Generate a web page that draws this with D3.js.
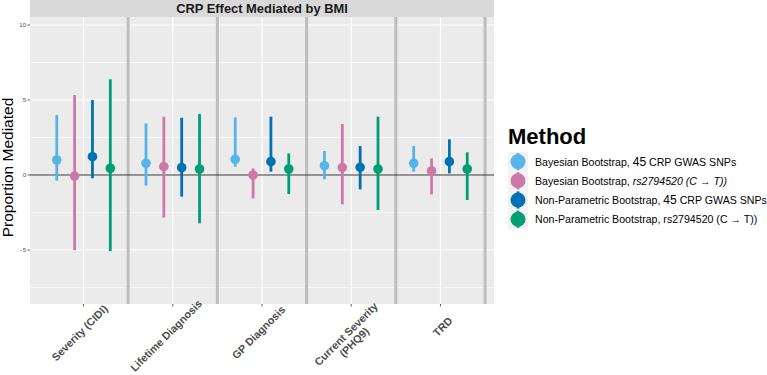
<!DOCTYPE html>
<html>
<head>
<meta charset="utf-8">
<script src="https://cdn.jsdelivr.net/npm/d3@7"></script>
<style>
  body { margin: 0; background: #fff; }
  svg { display: block; font-family: "Liberation Sans", Arial, Helvetica, sans-serif; }
</style>
</head>
<body>
<div id="chart"></div>
<script>
(function () {

  const CATEGORIES = ["Severity (CIDI)", "Lifetime Diagnosis", "GP Diagnosis", "Current Severity\n(PHQ9)", "TRD"];
  const METHODS = ["bayes45", "bayesRs", "np45", "npRs"];
  const COLORS = ["#56B4E9", "#CC79A7", "#0072B2", "#009E73"];

  // estimate / lower / upper per category, one array per method
  const BAYES45_EST = [1.0, 0.78, 1.04, 0.62, 0.78];
  const BAYES45_LO  = [-0.38, -0.71, 0.55, -0.29, 0.22];
  const BAYES45_HI  = [4.0, 3.44, 3.84, 1.6, 1.93];

  const BAYESRS_EST = [-0.07, 0.56, 0.0, 0.49, 0.27];
  const BAYESRS_LO  = [-5.02, -2.84, -1.56, -1.96, -1.29];
  const BAYESRS_HI  = [5.33, 3.89, 0.44, 3.4, 1.11];

  const NP45_EST = [1.22, 0.49, 0.89, 0.51, 0.89];
  const NP45_LO  = [-0.22, -1.44, 0.22, -0.96, 0.11];
  const NP45_HI  = [5.0, 3.82, 3.89, 1.93, 2.38];

  const NPRS_EST = [0.45, 0.4, 0.4, 0.4, 0.4];
  const NPRS_LO  = [-5.07, -3.22, -1.27, -2.33, -1.67];
  const NPRS_HI  = [6.38, 4.07, 1.44, 3.89, 1.51];

  const Y_TICKS = [-5, 0, 5, 10];
  const Y_MINOR = [-7.5, -2.5, 2.5, 7.5];

  const SERIES = [
    { est: BAYES45_EST, lo: BAYES45_LO, hi: BAYES45_HI },
    { est: BAYESRS_EST, lo: BAYESRS_LO, hi: BAYESRS_HI },
    { est: NP45_EST, lo: NP45_LO, hi: NP45_HI },
    { est: NPRS_EST, lo: NPRS_LO, hi: NPRS_HI }
  ];

  const data = [];
  SERIES.forEach((s, m) => {
    CATEGORIES.forEach((c, i) => {
      data.push({ cat: c, method: METHODS[m], est: s.est[i], lo: s.lo[i], hi: s.hi[i] });
    });
  });

  const W = 767, H = 375;
  const P = { left: 30, right: 494, top: 17, bottom: 304 };

  const svg = d3.select("#chart").append("svg")
    .attr("width", W)
    .attr("height", H);

  const x = d3.scalePoint()
    .domain(CATEGORIES)
    .range([P.left, P.right])
    .padding(0.6);
  const step = x.step();

  const dodge = d3.scalePoint()
    .domain(METHODS)
    .range([-step * 0.3, step * 0.3]);

  const y = d3.scaleLinear()
    .domain([-8.6, 10.533])
    .range([P.bottom, P.top]);

  const color = d3.scaleOrdinal().domain(METHODS).range(COLORS);

  // strip ---------------------------------------------------------
  svg.append("rect")
    .attr("x", P.left).attr("y", 0)
    .attr("width", P.right - P.left).attr("height", P.top)
    .attr("fill", "#D9D9D9");
  svg.append("text")
    .attr("x", (P.left + P.right) / 2)
    .attr("y", 12.7)
    .attr("text-anchor", "middle")
    .style("font-weight", 700)
    .style("font-size", "12.9px")
    .style("fill", "#1A1A1A")
    .text("CRP Effect Mediated by BMI");

  // panel ---------------------------------------------------------
  svg.append("rect")
    .attr("x", P.left).attr("y", P.top)
    .attr("width", P.right - P.left).attr("height", P.bottom - P.top)
    .attr("fill", "#EBEBEB");

  svg.append("g").selectAll("line")
    .data(Y_MINOR).enter().append("line")
    .attr("x1", P.left).attr("x2", P.right)
    .attr("y1", d => y(d)).attr("y2", d => y(d))
    .style("stroke", "#fff").style("stroke-width", 0.6);

  svg.append("g").selectAll("line")
    .data(Y_TICKS).enter().append("line")
    .attr("x1", P.left).attr("x2", P.right)
    .attr("y1", d => y(d)).attr("y2", d => y(d))
    .style("stroke", "#fff").style("stroke-width", 1.2);

  svg.append("g").selectAll("line")
    .data(CATEGORIES).enter().append("line")
    .attr("x1", d => x(d)).attr("x2", d => x(d))
    .attr("y1", P.top).attr("y2", P.bottom)
    .style("stroke", "#fff").style("stroke-width", 1.2);

  // separators between categories
  svg.append("g").selectAll("line")
    .data(CATEGORIES).enter().append("line")
    .attr("x1", d => x(d) + step / 2).attr("x2", d => x(d) + step / 2)
    .attr("y1", P.top).attr("y2", P.bottom)
    .style("stroke", "#BEBEBE").style("stroke-width", 3);

  // zero line
  svg.append("line")
    .attr("x1", P.left).attr("x2", P.right)
    .attr("y1", y(0)).attr("y2", y(0))
    .style("stroke", "#333").style("stroke-width", 1);

  // pointranges
  const g = svg.append("g");
  g.selectAll("line.range")
    .data(data).enter().append("line")
    .attr("class", "range")
    .attr("x1", d => x(d.cat) + dodge(d.method))
    .attr("x2", d => x(d.cat) + dodge(d.method))
    .attr("y1", d => y(d.lo)).attr("y2", d => y(d.hi))
    .style("stroke", d => color(d.method))
    .style("stroke-width", 2.8);
  g.selectAll("circle")
    .data(data).enter().append("circle")
    .attr("cx", d => x(d.cat) + dodge(d.method))
    .attr("cy", d => y(d.est))
    .attr("r", 4.8)
    .attr("fill", d => color(d.method));

  // y axis --------------------------------------------------------
  const yAxis = svg.append("g");
  yAxis.selectAll("line")
    .data(Y_TICKS).enter().append("line")
    .attr("x1", P.left - 2.5).attr("x2", P.left)
    .attr("y1", d => y(d)).attr("y2", d => y(d))
    .style("stroke", "#333").style("stroke-width", 0.8);
  yAxis.selectAll("text")
    .data(Y_TICKS).enter().append("text")
    .attr("x", P.left - 4)
    .attr("y", d => y(d) + 2)
    .attr("text-anchor", "end")
    .style("font-size", "6px")
    .style("fill", "#4D4D4D")
    .text(d => d);

  svg.append("text")
    .attr("transform", `translate(12.5,${(P.top + P.bottom) / 2 + 7}) rotate(-90)`)
    .attr("text-anchor", "middle")
    .style("font-size", "15.5px")
    .style("fill", "#000")
    .text("Proportion Mediated");

  // x axis --------------------------------------------------------
  svg.append("g").selectAll("line")
    .data(CATEGORIES).enter().append("line")
    .attr("x1", d => x(d)).attr("x2", d => x(d))
    .attr("y1", P.bottom).attr("y2", P.bottom + 2.5)
    .style("stroke", "#333").style("stroke-width", 0.8);

  const FS = 10.8;
  svg.append("g").selectAll("text")
    .data(CATEGORIES).enter().append("text")
    .attr("text-anchor", "middle")
    .style("font-size", FS + "px")
    .style("font-weight", 700)
    .style("fill", "#4D4D4D")
    .each(function (d) {
      const t = d3.select(this);
      const lines = d.split("\n");
      lines.forEach((l, i) => {
        t.append("tspan").attr("x", 0).attr("dy", i === 0 ? 0 : FS * 1.05).text(l);
      });
      const L = d3.max(t.selectAll("tspan").nodes(), n => n.getComputedTextLength());
      const shift = -0.17 * L;
      t.attr("transform", `translate(${x(d) + 5},${P.bottom + 20}) rotate(-45) translate(${shift},${FS * 0.35})`);
    });

  // legend --------------------------------------------------------
  const legend = svg.append("g").attr("transform", "translate(508,0)");
  legend.append("text")
    .attr("x", 0).attr("y", 144)
    .style("font-size", "22px")
    .style("font-weight", 700)
    .text("Method");

  const LABELS = [
    [["Bayesian Bootstrap, ", "n"], ["45", "big"], [" CRP GWAS SNPs", "n"]],
    [["Bayesian Bootstrap, ", "n"], ["rs2794520 (C \u2192 T))", "i"]],
    [["Non-Parametric Bootstrap, ", "n"], ["45", "big"], [" CRP GWAS SNPs", "n"]],
    [["Non-Parametric Bootstrap, rs2794520 (C \u2192 T))", "n"]]
  ];

  const keyH = 19.2, key0 = 152;
  METHODS.forEach((m, i) => {
    const row = legend.append("g").attr("transform", `translate(0,${key0 + i * keyH})`);
    row.append("rect")
      .attr("width", 20).attr("height", keyH)
      .attr("fill", "#F2F2F2");
    row.append("line")
      .attr("x1", 10).attr("x2", 10)
      .attr("y1", 1).attr("y2", keyH - 1)
      .style("stroke", color(m)).style("stroke-width", 2.8);
    row.append("circle")
      .attr("cx", 10).attr("cy", keyH / 2)
      .attr("r", 7.5)
      .attr("fill", color(m));
    const t = row.append("text")
      .attr("x", 27).attr("y", keyH / 2 + 4)
      .style("font-size", "10.6px")
      .style("fill", "#000");
    LABELS[i].forEach(([s, k]) => {
      const ts = t.append("tspan").text(s);
      if (k === "i") ts.style("font-style", "italic");
      if (k === "big") ts.style("font-size", "12px");
    });
  });

})();
</script>
</body>
</html>
